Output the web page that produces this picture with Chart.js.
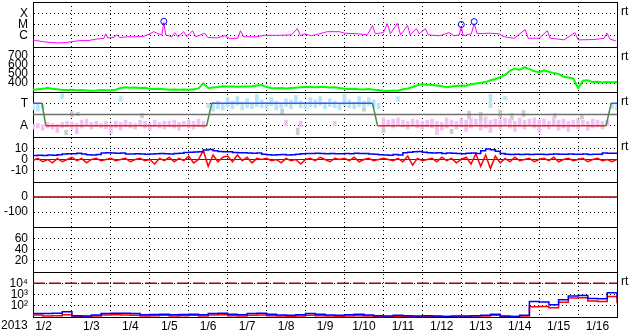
<!DOCTYPE html>
<html>
<head>
<meta charset="utf-8">
<script src="https://cdn.jsdelivr.net/npm/chart.js@4"></script>
<style>
  html, body { margin: 0; padding: 0; background: #fff; }
  canvas { display: block; }
</style>
</head>
<body>
<canvas id="plot" width="633" height="334"></canvas>
<script>
// x axis: days since 1/2 00:00, one label per day
const dayLabels = ['1/2','1/3','1/4','1/5','1/6','1/7','1/8','1/9','1/10','1/11','1/12','1/13','1/14','1/15','1/16'];
const yearLabel = '2013';

// panel 1 - X-ray flux [day, W/m2]
const xrayFlux = [
  [0,4.3e-7],[0.13,3.5e-7],[0.26,3.0e-7],[0.44,2.5e-7],[0.64,2.3e-7],[0.85,2.5e-7],
  [1.0,3.0e-7],[1.21,3.7e-7],[1.41,3.7e-7],[1.62,5.0e-7],[1.82,5.9e-7],[1.87,1.5e-6],[1.92,6.5e-7],
  [2.08,7.0e-7],[2.15,1.2e-6],[2.23,7.0e-7],[2.44,8.1e-7],[2.64,8.1e-7],[2.85,9e-7],
  [3.0,1.5e-6],[3.1,2.3e-6],[3.21,1.5e-6],[3.31,1.2e-6],[3.36,1.5e-5],[3.41,1.2e-6],[3.56,8.1e-7],
  [3.64,1.9e-6],[3.72,8.1e-7],[3.87,2.3e-6],[3.95,8.1e-7],
  [4.1,2.8e-6],[4.18,8.1e-7],[4.41,1.7e-6],[4.49,7.0e-7],[4.74,6.5e-7],[4.92,1.0e-6],
  [5.05,5.9e-7],[5.26,5.9e-7],[5.33,2.8e-6],[5.41,8.1e-7],[5.72,8.1e-7],[5.95,1.1e-6],
  [6.33,1.1e-6],[6.64,1.2e-6],[6.79,4.3e-6],[6.87,1.0e-6],[6.97,1.5e-6],
  [7.15,1.0e-6],[7.36,1.5e-6],[7.56,2.3e-6],[7.87,2.3e-6],
  [8.0,1.7e-6],[8.33,1.5e-6],[8.59,1.2e-6],[8.72,8.1e-6],[8.79,1.5e-6],
  [9.0,1.9e-6],[9.1,1.2e-5],[9.18,1.5e-6],[9.36,1.3e-5],[9.44,1.2e-6],[9.62,8.1e-6],[9.69,1.2e-6],
  [9.85,4.3e-6],[9.92,1.5e-6],
  [10.08,4.3e-6],[10.15,1.2e-6],[10.44,1.0e-6],[10.69,1.9e-6],[10.82,1.0e-6],[10.95,1.2e-6],
  [11.0,6.5e-6],[11.05,1.0e-6],[11.26,1.5e-6],[11.33,1.2e-5],[11.41,1.5e-6],[11.72,1.7e-6],[11.97,1.5e-6],
  [12.1,8.1e-7],[12.36,5.9e-7],[12.64,3.5e-6],[12.72,5.9e-7],
  [13.0,6.1e-7],[13.21,2.8e-6],[13.28,6.1e-7],[13.64,4.3e-7],[13.92,1.9e-6],
  [14.0,4.3e-7],[14.41,4.6e-7],[14.67,5.9e-7],[14.74,1.8e-6],[14.82,5.0e-7],[14.97,3.5e-7]
];
const flareMarks = [[3.36,1.9e-5],[11.0,1.0e-5],[11.33,1.8e-5]];
const xrayTicks = [1e-6, 1e-5, 1e-4];
const xrayTickLabels = ['C','M','X'];

// panel 2 - solar wind speed, every 3 hours [km/s]
const speedKms = [
  322,330,335,348,335,330,322,322,
  325,320,322,318,314,316,322,320,
  320,325,345,352,348,350,345,348,
  335,332,335,330,326,328,325,328,
  326,330,340,396,345,350,355,365,
  362,360,358,362,360,365,372,378,
  355,345,342,345,340,345,348,352,
  355,356,352,356,355,350,354,345,
  335,332,336,330,328,332,326,322,
  315,312,316,314,330,340,355,375,
  385,380,378,372,365,352,362,368,
  372,370,385,395,402,410,430,445,
  465,490,535,560,545,575,555,530,
  520,540,525,510,500,470,460,450,
  345,425,430,410,415,405,412,408,410
];
const speedTicks = [400, 500, 600, 700];

// panel 3 - sector (T = toward, A = away)
const sectorStep = [[0,1],[0.23,1],[0.33,-1],[4.46,-1],[4.59,1],[8.72,1],[8.85,-1],[14.72,-1],[14.85,1],[15,1]];
const sectorMid = [[0,0],[15,0]];
const sectorAway = [
  [-1.3,-0.9],[-1.2,-0.8],[-1.4,-0.9],[-1.2,-0.7],[-1.3,-0.8],[-1.6,-0.9],[-1.2,-0.7],[-1.1,-0.6],
  [-1.3,-0.7],[-1.7,-0.8],[-1.2,-0.5],[-1.0,-0.4],[-1.3,-0.7],[-1.1,-0.6],[-1.2,-0.8],[-1.3,-0.6],
  [-1.7,-0.9],[-1.2,-0.6],[-1.4,-0.7],[-1.1,-0.5],[-1.2,-0.7],[-1.3,-0.8],[-1.0,-0.5],[-1.2,-0.6],
  [-1.4,-0.8],[-1.1,-0.5],[-1.2,-0.7],[-1.3,-0.6],[-1.1,-0.6],[-1.2,-0.5],[-1.4,-0.7],[-1.0,-0.6],
  [-1.2,-0.5],[-1.3,-0.6],[-1.1,-0.4],[-1.2,-0.6],null,null,null,null,
  null,null,null,null,null,null,null,null,
  null,null,null,null,[-1.0,-0.5],null,null,[-1.1,-0.6],
  null,null,null,null,null,null,[-1.0,-0.6],null,
  null,null,null,null,null,null,null,null,
  [-1.1,-0.3],[-1.0,-0.5],[-1.2,-0.4],[-0.9,-0.3],[-1.1,-0.5],[-1.3,-0.6],[-1.0,-0.4],[-1.2,-0.5],
  [-1.3,-0.6],[-1.1,-0.5],[-1.2,-0.4],[-1.8,-0.6],[-1.4,-0.7],[-1.2,-0.3],[-1.0,-0.5],[-1.3,-0.6],
  [-1.1,-0.4],[-1.5,-0.5],[-1.2,-0.3],[-1.0,-0.4],[-1.4,-0.6],[-1.2,-0.2],[-1.6,-0.5],[-1.1,-0.4],
  [-1.3,-0.5],[-1.0,-0.3],[-1.2,-0.4],[-1.5,-0.6],[-1.1,-0.3],[-1.3,-0.5],[-1.0,-0.4],[-1.2,-0.3],
  [-1.6,-0.5],[-1.1,-0.4],[-1.3,-0.6],[-1.0,-0.3],[-1.4,-0.5],[-1.2,-0.4],[-1.5,-0.6],[-1.1,-0.5],
  [-1.3,-0.4],[-1.0,-0.5],[-1.4,-0.6],[-1.2,-0.4],[-1.1,-0.5],[-1.3,-0.6],[-1.0,-0.5],null,null
];
const sectorToward = [
  [0.4,1.0],[0.3,0.9],[0.5,0.9],null,null,null,[1.4,1.85],null,
  null,null,null,null,null,null,null,null,
  null,null,[1.2,1.6],null,null,null,null,null,
  null,null,null,null,null,null,null,null,
  null,null,null,null,[0.6,1.0],[0.3,1.1],[0.5,1.2],[0.4,0.9],
  [0.7,1.5],[0.5,1.2],[0.8,1.6],[0.4,1.1],[0.6,1.4],[0.5,1.0],[0.7,1.8],[0.6,1.3],
  [0.5,1.1],[0.8,1.5],[0.4,1.2],[0.6,1.0],[0.7,1.4],[0.5,1.3],[0.9,1.7],[0.6,1.2],
  [0.5,1.0],[0.7,1.5],[0.6,1.3],[0.8,1.6],[0.5,1.1],[0.7,1.4],[0.6,1.2],[0.4,1.0],
  [0.8,1.8],[0.6,1.3],[0.5,1.1],[0.7,1.6],[0.6,1.2],[0.8,1.5],[0.6,1.3],[0.5,1.0],
  null,null,null,[1.2,1.6],null,null,null,null,
  null,null,null,null,null,null,null,null,
  null,null,null,null,null,null,[0.6,1.8],null,
  null,[1.3,1.6],null,null,null,null,null,null,
  null,null,null,null,null,null,null,null,
  null,null,null,null,null,null,null,[0.5,1.0],[0.4,0.9]
];
const sectorOther = [
  [0.85,-1.8,-1.4],[1.0,-0.2,0.25],[1.15,-0.1,0.2],[2.8,-0.3,0.1],[6.4,0.05,0.5],[6.8,-1.8,-1.2],
  [8.5,0.3,0.7],[9.0,-1.6,-1.0],[10.75,-1.7,-1.3],[11.2,-0.4,0.3],[11.5,-0.6,0.2],[12.0,-0.3,0.4],
  [12.3,-0.5,0.1],[12.6,-0.2,0.35],[13.4,-0.3,0.1],[14.1,-0.4,0.0]
];
const sectorTicks = [-1, 1];
const sectorTickLabels = ['A','T'];

// panel 4 - IMF Bt / Bz, every 3 hours [nT]
const btNt = [
  3.5,3.8,3.6,4.0,3.8,4.2,5.0,5.2,
  5.2,5.5,5.0,4.2,4.0,4.5,5.8,6.0,
  5.8,5.6,5.8,5.0,4.8,5.2,5.0,4.6,
  5.0,5.2,5.4,5.2,5.0,5.3,5.6,6.2,
  6.4,6.6,6.8,8.5,9.0,7.8,7.2,7.0,
  6.8,6.2,6.0,6.0,5.8,5.6,5.8,4.6,
  4.2,4.0,4.2,4.4,4.0,4.2,4.6,5.2,
  5.4,5.4,5.6,5.4,5.2,5.4,5.2,5.2,
  5.4,5.2,5.6,5.4,5.4,5.0,4.6,4.2,
  4.0,3.8,4.4,4.0,6.0,6.4,7.0,7.2,
  6.4,6.0,5.8,6.0,5.4,5.8,5.6,5.4,
  5.2,5.6,5.8,5.4,7.8,9.4,8.6,7.4,
  5.4,4.6,4.4,4.6,4.4,4.6,4.4,4.6,
  4.6,4.4,4.6,4.8,4.6,4.6,4.8,4.6,
  4.6,4.8,4.4,4.6,4.6,5.8,5.6,5.6,5.6
];
const bzNt = [
  -1,1,-2,0,-3,1,-2,0,
  2,-1,1,-3,0,1,-1,0,
  1,-1,0,1,-2,0,1,-1,
  0,-4,1,-1,2,-2,1,-1,
  3,-3,0,8,-6,4,-2,2,
  3,-2,4,-1,2,-3,1,0,
  1,-1,0,-3,1,-1,0,-4,
  0,1,-1,2,0,-2,1,0,
  1,-1,2,-2,0,1,-1,0,
  1,0,-1,1,-2,3,-5,1,
  -1,0,1,-2,2,-1,1,-3,
  0,2,-4,5,-6,4,-8,3,
  -3,1,-2,2,-1,0,1,-2,
  0,1,-1,2,-2,0,1,-1,
  0,1,-2,0,1,-1,0,-2,0
];
const imfTicks = [-10, 0, 10];
const zeroLine = [[0,0],[15,0]];

// panel 5 - Dst, panel 6 - Kp (no data in this period)
const dstTicks = [-100, 0];
const kpTicks = [20, 40, 60];

// panel 7 - particle flux, every 6 hours
const protonBlue = [20,21,22,30,13,12,15,21,22,22,20,16,17,18,16,17,18,16,20,22,18,16,20,22,18,15,14,16,20,18,15,14,16,18,15,13,12,14,13,12,13,12,11,12,12,13,14,18,12,11,14,240,220,120,350,750,800,450,420,1400,480];
const protonRed = [15,12,13,16,11,11,12,15,16,15,14,12,13,14,12,13,14,12,15,16,13,12,14,15,13,12,11,12,14,13,12,11,12,13,12,11,11,11,11,11,11,11,11,11,11,12,12,14,11,11,12,80,85,65,200,480,520,260,240,650,170];
const protonLevel = [[0,1e4],[15,1e4]];
const protonTicks = [1e2, 1e3, 1e4];
const protonTickLabels = ['10²','10³','10⁴'];

const panelIds = ['y1','y2','y3','y4','y5','y6','y7'];
const rtPanels = ['y1','y2','y3','y4','y7'];

const FONT = "'Liberation Sans', Arial, sans-serif";
Chart.defaults.font.family = FONT;
Chart.defaults.font.size = 12;
Chart.defaults.color = '#000';

const pairs = arr => arr.map(p => ({x: p[0], y: p[1]}));
const every3h = arr => arr.map((v, i) => ({x: i / 8, y: v}));
const every6h = arr => arr.map((v, i) => ({x: i / 4, y: v}));
const ranges = arr => arr.map((v, i) => v ? {x: i / 8, y: v} : null).filter(Boolean);

function panelAxis(min, max, ticks, labels, extra) {
  return Object.assign({
    type: 'linear', min: min, max: max,
    stack: 'panels', stackWeight: 1, position: 'left', offset: false,
    afterFit: s => { s.width = 33; s.paddingTop = 0; s.paddingBottom = 0; },
    afterBuildTicks: s => { s.ticks = ticks.map(v => ({value: v})); },
    grid: { drawTicks: false, color: '#000', offset: false },
    border: { color: '#000', dash: [1, 3] },
    ticks: {
      padding: 5, color: '#000', autoSkip: false,
      callback: v => labels ? labels[ticks.indexOf(v)] : String(v)
    }
  }, extra || {});
}

const framePlugin = {
  id: 'frame',
  afterDraw(chart) {
    const ctx = chart.ctx, a = chart.chartArea;
    ctx.save();
    ctx.strokeStyle = '#000';
    ctx.lineWidth = 1;
    ctx.beginPath();
    panelIds.forEach(id => {
      const y = Math.round(chart.scales[id].top) + 0.5;
      ctx.moveTo(a.left, y); ctx.lineTo(a.right, y);
    });
    const xr = Math.round(a.right) + 0.5;
    ctx.moveTo(xr, a.top); ctx.lineTo(xr, a.bottom);
    ctx.stroke();
    ctx.fillStyle = '#000';
    ctx.font = '12px ' + FONT;
    ctx.textBaseline = 'middle';
    rtPanels.forEach(id => {
      ctx.fillText('rt', a.right + 4, chart.scales[id].top + 10);
    });
    ctx.fillText(yearLabel, 1, a.bottom + 9);
    ctx.restore();
  }
};

new Chart(document.getElementById('plot'), {
  type: 'line',
  data: {
    datasets: [
      { type: 'scatter', data: pairs(flareMarks), yAxisID: 'y1', pointRadius: 3, pointStyle: 'circle',
        borderColor: '#0000ff', backgroundColor: 'rgba(0,0,0,0)', borderWidth: 1 },
      { data: pairs(xrayFlux), yAxisID: 'y1', borderColor: '#ff00ff', borderWidth: 1 },
      { data: every3h(speedKms), yAxisID: 'y2', borderColor: '#00ff00', borderWidth: 2 },
      { data: pairs(sectorStep), yAxisID: 'y3', borderWidth: 1.5,
        segment: { borderColor: c => c.p0.parsed.y !== c.p1.parsed.y ? '#4f8a4f' : (c.p0.parsed.y > 0 ? '#4d4dff' : '#e02828') } },
      { data: pairs(sectorMid), yAxisID: 'y3', borderColor: '#707070', borderWidth: 1.5 },
      { type: 'bar', data: ranges(sectorAway), yAxisID: 'y3', backgroundColor: '#f7c0f3', barThickness: 3, grouped: false },
      { type: 'bar', data: ranges(sectorToward), yAxisID: 'y3', backgroundColor: '#b4e8f7', barThickness: 3, grouped: false },
      { type: 'bar', data: sectorOther.map(p => ({x: p[0], y: [p[1], p[2]]})), yAxisID: 'y3', backgroundColor: '#cccccc', barThickness: 3, grouped: false },
      { data: every3h(btNt), yAxisID: 'y4', borderColor: '#0000ff', borderWidth: 1.5, stepped: true },
      { data: every3h(bzNt), yAxisID: 'y4', borderColor: '#ff0000', borderWidth: 1.5 },
      { data: pairs(zeroLine), yAxisID: 'y4', borderColor: '#a00000', borderWidth: 1 },
      { data: pairs(zeroLine), yAxisID: 'y5', borderColor: '#a00000', borderWidth: 1.5 },
      { data: every6h(protonBlue), yAxisID: 'y7', borderColor: '#0000ff', borderWidth: 1.5, stepped: true },
      { data: every6h(protonRed), yAxisID: 'y7', borderColor: '#ff0000', borderWidth: 1.5, stepped: true },
      { data: pairs(protonLevel), yAxisID: 'y7', borderColor: '#a00000', borderWidth: 1.5, borderDash: [12, 4] }
    ]
  },
  options: {
    responsive: false,
    animation: false,
    devicePixelRatio: 1,
    layout: { autoPadding: false, padding: { top: 2, right: 16, left: 0, bottom: 0 } },
    elements: { point: { radius: 0 }, line: { tension: 0, fill: false } },
    plugins: { legend: { display: false }, tooltip: { enabled: false } },
    scales: {
      x: {
        type: 'linear', min: 0, max: 15, offset: false,
        afterFit: s => { s.height = 17; s.paddingLeft = 0; s.paddingRight = 0; },
        afterBuildTicks: s => {
          const t = [];
          for (let i = 0; i <= 15; i++) t.push({value: i});
          dayLabels.forEach((l, i) => t.push({value: i === 0 ? 0.27 : i + 0.5}));
          t.sort((p, q) => p.value - q.value);
          s.ticks = t;
        },
        grid: { drawTicks: false, offset: false,
                color: c => (c.tick && Number.isInteger(c.tick.value)) ? '#000' : 'rgba(0,0,0,0)' },
        border: { color: '#000', dash: [1, 3] },
        ticks: { autoSkip: false, maxRotation: 0, padding: 2,
                 callback: v => Number.isInteger(v) ? '' : dayLabels[Math.floor(v)] }
      },
      // stacked panels are laid out bottom-up, so the bottom panel comes first
      y7: panelAxis(10, 1e5, protonTicks, protonTickLabels, { type: 'logarithmic' }),
      y6: panelAxis(0, 80, kpTicks),
      y5: panelAxis(-200, 100, dstTicks),
      y4: panelAxis(-20, 20, imfTicks),
      y3: panelAxis(-2, 2, sectorTicks, sectorTickLabels),
      y2: panelAxis(300, 800, speedTicks),
      y1: panelAxis(1e-7, 1e-3, xrayTicks, xrayTickLabels, { type: 'logarithmic' })
    }
  },
  plugins: [framePlugin]
});
</script>
</body>
</html>
